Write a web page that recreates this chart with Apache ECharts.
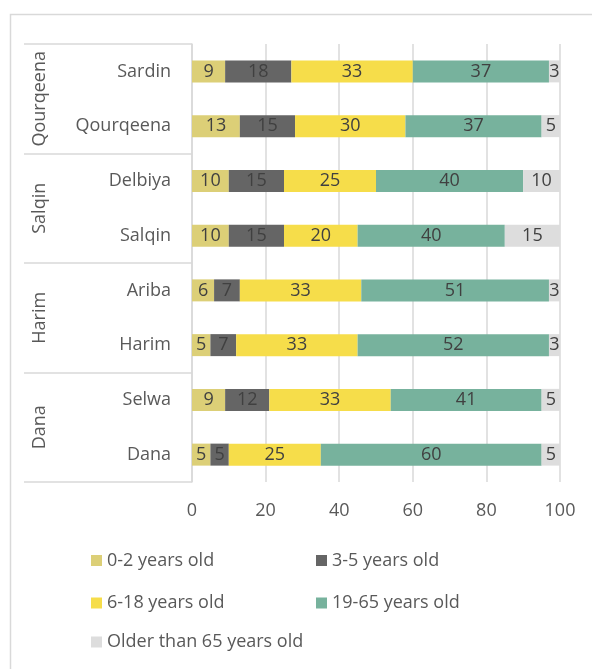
<!DOCTYPE html>
<html>
<head>
<meta charset="utf-8">
<script src="https://cdn.jsdelivr.net/npm/echarts@6/dist/echarts.min.js"></script>
<style>
html,body{margin:0;padding:0;background:#fff;}
#chart{width:592px;height:669px;}
</style>
</head>
<body>
<div id="chart"></div>
<script>
// Categories top to bottom
const categories = ['Sardin', 'Qourqeena', 'Delbiya', 'Salqin', 'Ariba', 'Harim', 'Selwa', 'Dana'];
const groups = ['Qourqeena', 'Salqin', 'Harim', 'Dana'];
const seriesNames = ['0-2 years old', '3-5 years old', '6-18 years old', '19-65 years old', 'Older than 65 years old'];
const age0to2 = [9, 13, 10, 10, 6, 5, 9, 5];
const age3to5 = [18, 15, 15, 15, 7, 7, 12, 5];
const age6to18 = [33, 30, 25, 20, 33, 33, 33, 25];
const age19to65 = [37, 37, 40, 40, 51, 52, 41, 60];
const age65plus = [3, 5, 10, 15, 3, 3, 5, 5];
const xTicks = [0, 20, 40, 60, 80, 100];

const colors = ['#DCCF77', '#656565', '#F6DD4A', '#77B29D', '#DDDDDD'];
const values = [age0to2, age3to5, age6to18, age19to65, age65plus];
const FONT = 'Open Sans';

const chart = echarts.init(document.getElementById('chart'), null, {renderer: 'canvas'});

const legendPos = [
  {left: 91, top: 551.5},
  {left: 316, top: 551.5},
  {left: 91, top: 594},
  {left: 316, top: 594},
  {left: 91, top: 633}
];

const option = {
  backgroundColor: '#fff',
  animation: false,
  textStyle: {fontFamily: FONT},
  graphic: [{
    type: 'rect',
    shape: {x: 10.5, y: 14.5, width: 800, height: 800},
    style: {fill: 'none', stroke: '#D9D9D9', lineWidth: 1.5},
    silent: true
  }],
  grid: {left: 192, right: 32, top: 44, bottom: 187, containLabel: false},
  legend: seriesNames.map((n, i) => ({
    data: [n],
    left: legendPos[i].left,
    top: legendPos[i].top,
    padding: 0,
    icon: 'rect',
    itemWidth: 11,
    itemHeight: 11,
    selectedMode: false,
    textStyle: {color: '#595959', fontSize: 18, fontFamily: FONT}
  })),
  xAxis: {
    type: 'value',
    min: 0,
    max: 100,
    interval: 20,
    axisLine: {show: false},
    axisTick: {show: false},
    axisLabel: {
      color: '#595959', fontSize: 18, fontFamily: FONT, margin: 20,
      formatter: v => (xTicks.indexOf(v) >= 0 ? String(v) : '')
    },
    splitLine: {show: true, lineStyle: {color: '#D9D9D9', width: 1.5}}
  },
  yAxis: [{
    type: 'category',
    data: categories,
    inverse: true,
    position: 'left',
    axisLine: {show: false},
    axisTick: {show: false},
    axisLabel: {color: '#595959', fontSize: 18, fontFamily: FONT, margin: 21},
    splitLine: {show: false}
  }, {
    type: 'category',
    data: groups,
    inverse: true,
    position: 'left',
    offset: 0,
    axisLine: {show: true, lineStyle: {color: '#D9D9D9', width: 1.5}},
    axisTick: {show: true, length: 168, interval: 0, lineStyle: {color: '#D9D9D9', width: 1.5}},
    axisLabel: {color: '#595959', fontSize: 18, fontFamily: FONT, rotate: 90, margin: 143, interval: 0},
    splitLine: {show: false}
  }],
  series: seriesNames.map((n, i) => ({
    name: n,
    type: 'bar',
    stack: 'total',
    yAxisIndex: 0,
    barWidth: 22,
    itemStyle: {color: colors[i]},
    label: {
      show: true,
      position: 'inside',
      color: '#404040',
      fontSize: 18,
      fontFamily: FONT
    },
    data: values[i]
  }))
};

chart.setOption(option);
</script>
</body>
</html>
